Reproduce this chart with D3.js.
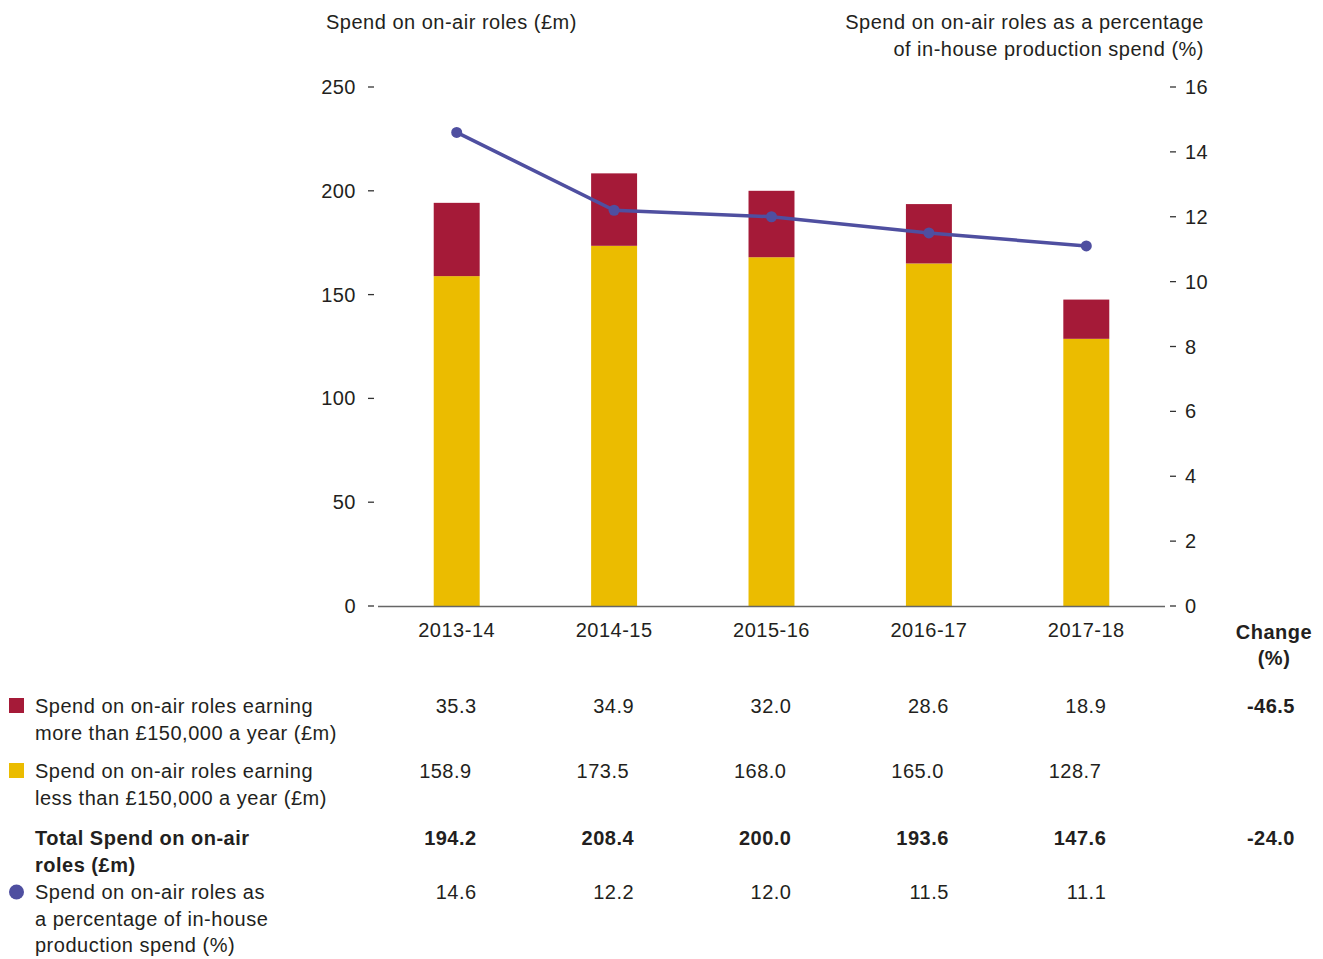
<!DOCTYPE html>
<html>
<head>
<meta charset="utf-8">
<script src="https://cdn.jsdelivr.net/npm/d3@7"></script>
<style>
  body { margin: 0; background: #fff; }
  svg text { font-family: "Liberation Sans", Arial, sans-serif; fill: #231f20; letter-spacing: 0.5px; }
</style>
</head>
<body>
<svg width="1323" height="959"></svg>
<script>
// data
const years = ["2013-14", "2014-15", "2015-16", "2016-17", "2017-18"];
const over150k = [35.3, 34.9, 32.0, 28.6, 18.9];
const under150k = [158.9, 173.5, 168.0, 165.0, 128.7];
const totals = [194.2, 208.4, 200.0, 193.6, 147.6];
const percentOfInHouse = [14.6, 12.2, 12.0, 11.5, 11.1];
const changeOver = "-46.5";
const changeTotal = "-24.0";
const leftTicks = [0, 50, 100, 150, 200, 250];
const rightTicks = [0, 2, 4, 6, 8, 10, 12, 14, 16];

const red = "#a51a38", yellow = "#ebbc00", blue = "#4f4fa0";

const svg = d3.select("svg");
const fs = 20;

// scales
const x = d3.scaleBand()
    .domain(years)
    .range([378, 1165])
    .paddingInner(0.708)
    .paddingOuter(0.354);
const yL = d3.scaleLinear().domain([0, 250]).range([606, 87]);
const yR = d3.scaleLinear().domain([0, 16]).range([606, 87]);
const cx = d => x(d) + x.bandwidth() / 2;

// axis titles
svg.append("text").attr("x", 326).attr("y", 22).attr("dy", "0.35em").attr("font-size", fs)
    .text("Spend on on-air roles (£m)");
svg.append("text").attr("x", 1204).attr("y", 22).attr("dy", "0.35em").attr("font-size", fs)
    .attr("text-anchor", "end").text("Spend on on-air roles as a percentage");
svg.append("text").attr("x", 1204).attr("y", 49).attr("dy", "0.35em").attr("font-size", fs)
    .attr("text-anchor", "end").text("of in-house production spend (%)");

// left axis ticks
const gl = svg.append("g");
leftTicks.forEach(t => {
    gl.append("line").attr("x1", 368).attr("x2", 374)
        .attr("y1", yL(t)).attr("y2", yL(t)).attr("stroke", "#333").attr("stroke-width", 1.3);
    gl.append("text").attr("x", 356).attr("y", yL(t)).attr("dy", "0.35em")
        .attr("font-size", fs).attr("text-anchor", "end").text(t);
});
// right axis ticks
const gr = svg.append("g");
rightTicks.forEach(t => {
    gr.append("line").attr("x1", 1170).attr("x2", 1176)
        .attr("y1", yR(t)).attr("y2", yR(t)).attr("stroke", "#333").attr("stroke-width", 1.3);
    gr.append("text").attr("x", 1185).attr("y", yR(t)).attr("dy", "0.35em")
        .attr("font-size", fs).text(t);
});

// bars
const stacked = years.map((y, i) => ({ year: y, low: under150k[i], high: over150k[i] }));
svg.append("g").selectAll("rect.low").data(stacked).join("rect")
    .attr("x", d => x(d.year)).attr("width", x.bandwidth())
    .attr("y", d => yL(d.low)).attr("height", d => yL(0) - yL(d.low))
    .attr("fill", yellow);
svg.append("g").selectAll("rect.high").data(stacked).join("rect")
    .attr("x", d => x(d.year)).attr("width", x.bandwidth())
    .attr("y", d => yL(d.low + d.high)).attr("height", d => yL(d.low) - yL(d.low + d.high))
    .attr("fill", red);

// baseline
svg.append("line").attr("x1", 378).attr("x2", 1165).attr("y1", 606.5).attr("y2", 606.5)
    .attr("stroke", "#666").attr("stroke-width", 1.5);

// x labels
svg.append("g").selectAll("text").data(years).join("text")
    .attr("x", d => cx(d)).attr("y", 630).attr("dy", "0.35em")
    .attr("font-size", fs).attr("text-anchor", "middle").text(d => d);

// percentage line
const pts = years.map((y, i) => ({ year: y, v: percentOfInHouse[i] }));
svg.append("path")
    .attr("d", d3.line().x(d => cx(d.year)).y(d => yR(d.v))(pts))
    .attr("fill", "none").attr("stroke", blue).attr("stroke-width", 3.5);
svg.append("g").selectAll("circle").data(pts).join("circle")
    .attr("cx", d => cx(d.year)).attr("cy", d => yR(d.v)).attr("r", 5.5)
    .attr("fill", blue);

// table
svg.append("text").attr("x", 1274).attr("y", 632).attr("dy", "0.35em").attr("font-size", fs)
    .attr("font-weight", "bold").attr("text-anchor", "middle").text("Change");
svg.append("text").attr("x", 1274).attr("y", 658).attr("dy", "0.35em").attr("font-size", fs)
    .attr("font-weight", "bold").attr("text-anchor", "middle").text("(%)");

const rows = [
    { lines: ["Spend on on-air roles earning", "more than £150,000 a year (£m)"], y: 706, vals: over150k, key: "rect", color: red, change: changeOver, dx: 20 },
    { lines: ["Spend on on-air roles earning", "less than £150,000 a year (£m)"], y: 771, vals: under150k, key: "rect", color: yellow, change: "", dx: 15 },
    { lines: ["Total Spend on on-air", "roles (£m)"], y: 838, vals: totals, key: null, bold: true, change: changeTotal, dx: 20 },
    { lines: ["Spend on on-air roles as", "a percentage of in-house", "production spend (%)"], y: 892, vals: percentOfInHouse, key: "circle", color: blue, change: "", dx: 20 }
];
rows.forEach(r => {
    const g = svg.append("g");
    if (r.key === "rect") {
        g.append("rect").attr("x", 9).attr("y", r.y - 8).attr("width", 15).attr("height", 15).attr("fill", r.color);
    } else if (r.key === "circle") {
        g.append("circle").attr("cx", 16.5).attr("cy", r.y).attr("r", 7.5).attr("fill", r.color);
    }
    r.lines.forEach((l, j) => {
        g.append("text").attr("x", 35).attr("y", r.y + j * 26.5).attr("dy", "0.35em")
            .attr("font-size", fs).attr("font-weight", r.bold ? "bold" : null).text(l);
    });
    r.vals.forEach((v, i) => {
        g.append("text").attr("x", cx(years[i]) + r.dx).attr("y", r.y).attr("dy", "0.35em")
            .attr("font-size", fs).attr("text-anchor", "end")
            .attr("font-weight", r.bold ? "bold" : null).text(v.toFixed(1));
    });
    if (r.change) {
        g.append("text").attr("x", 1295).attr("y", r.y).attr("dy", "0.35em")
            .attr("font-size", fs).attr("font-weight", "bold").attr("text-anchor", "end").text(r.change);
    }
});
</script>
</body>
</html>
